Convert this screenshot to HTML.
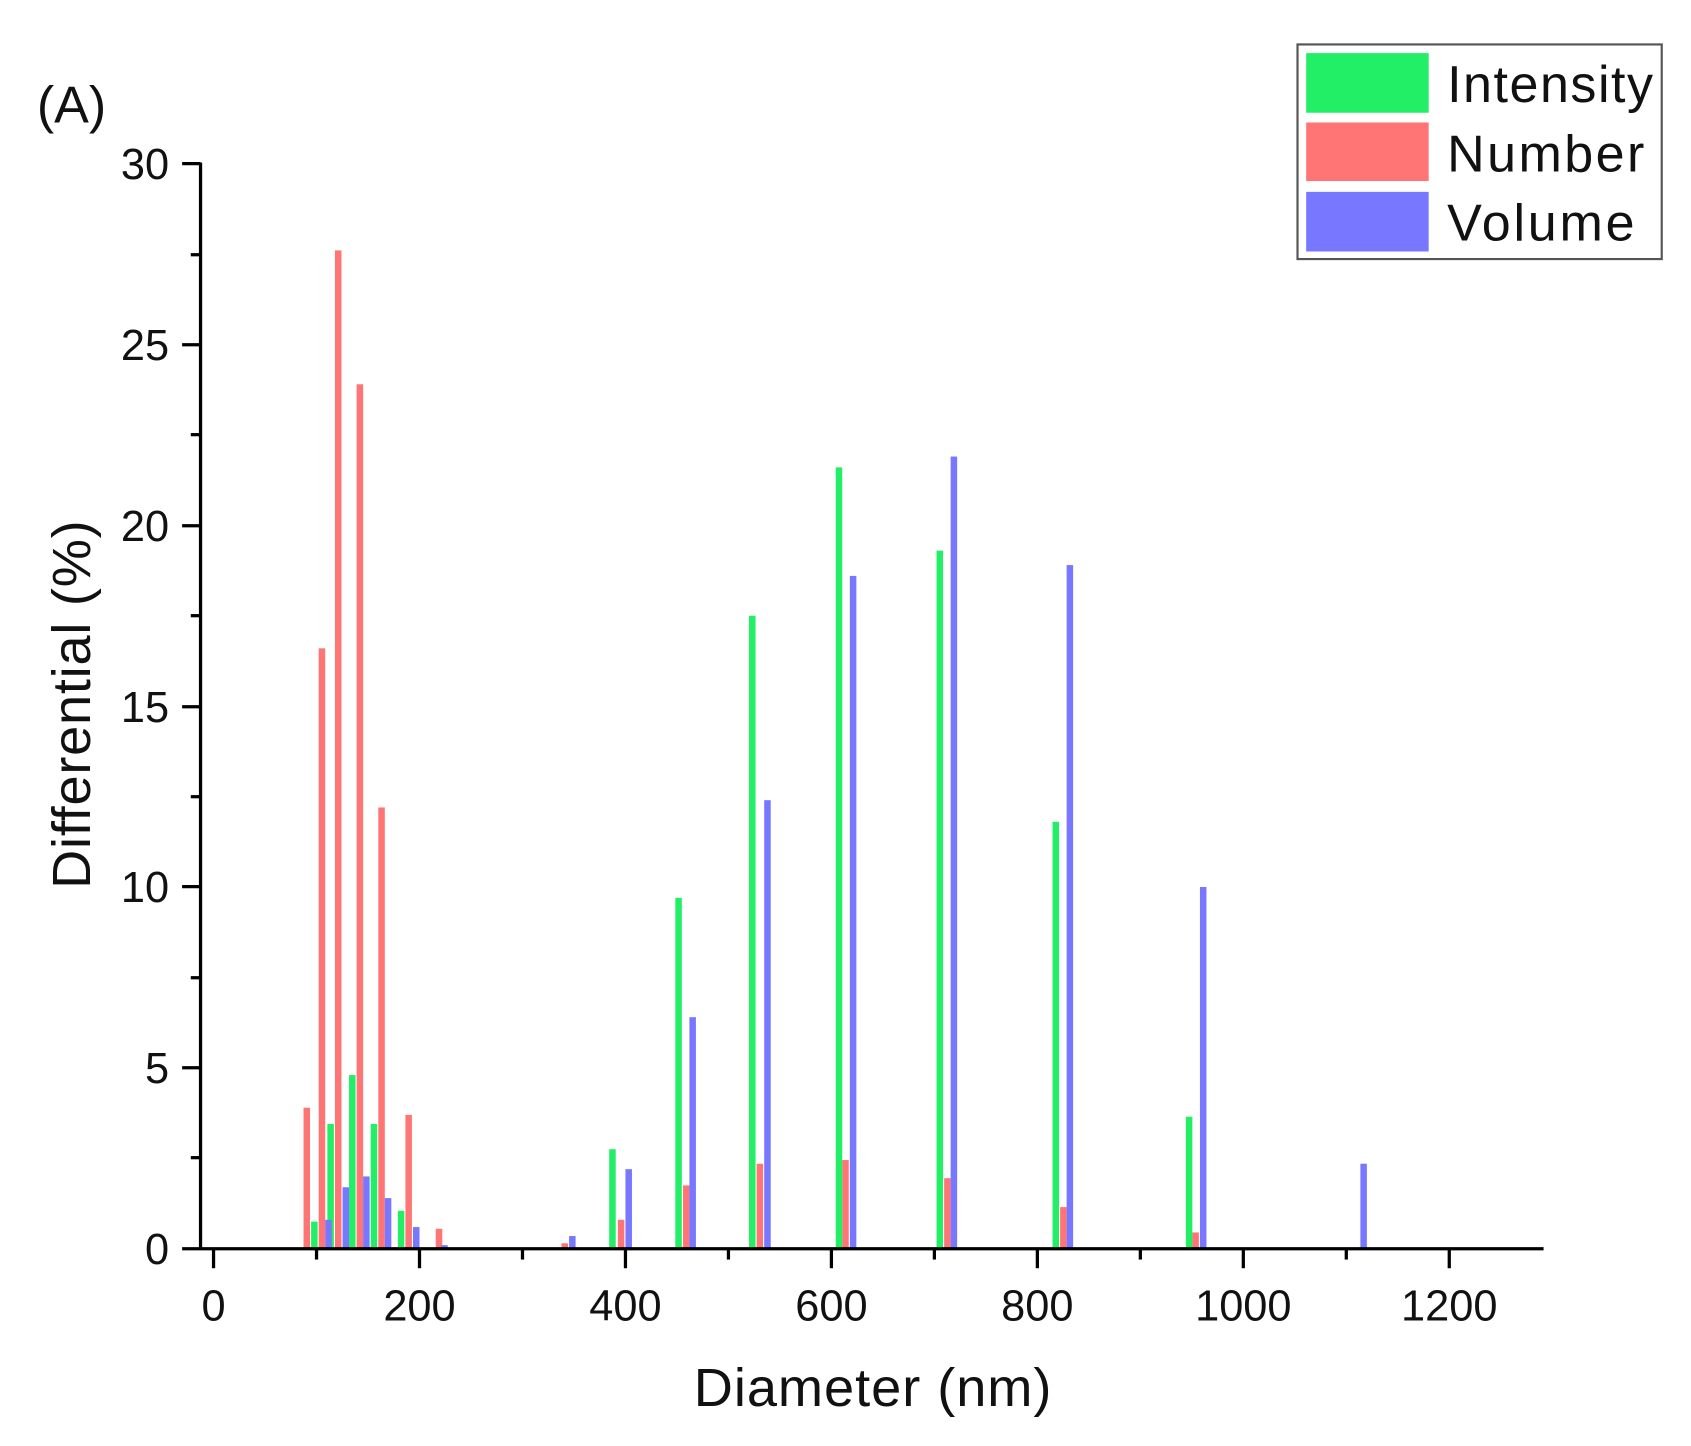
<!DOCTYPE html>
<html><head><meta charset="utf-8"><style>html,body{margin:0;padding:0;background:#fff;}svg{display:block;}</style></head>
<body>
<svg width="1691" height="1446" viewBox="0 0 1560 1334" xmlns="http://www.w3.org/2000/svg" font-family="Liberation Sans, Arial, sans-serif">
<rect width="1560" height="1334" fill="#fff"/>
<g fill="#ff7575">
<rect x="280" y="1021.9" width="6" height="130.1"/>
<rect x="294" y="598.1" width="6" height="553.9"/>
<rect x="309" y="231" width="6" height="921"/>
<rect x="329" y="354.5" width="6" height="797.5"/>
<rect x="349" y="744.9" width="6" height="407.1"/>
<rect x="374" y="1028.5" width="6" height="123.5"/>
<rect x="402" y="1133.6" width="6" height="18.4"/>
<rect x="518" y="1147" width="6" height="5"/>
<rect x="570" y="1125.3" width="6" height="26.7"/>
<rect x="630" y="1093.6" width="6" height="58.4"/>
<rect x="698" y="1073.6" width="6" height="78.4"/>
<rect x="777" y="1070.2" width="6" height="81.8"/>
<rect x="871" y="1086.9" width="6" height="65.1"/>
<rect x="978" y="1113.6" width="6" height="38.4"/>
<rect x="1100" y="1137" width="6" height="15"/>
</g>
<g fill="#22ee66">
<rect x="287" y="1127" width="6" height="25"/>
<rect x="302" y="1036.9" width="6" height="115.1"/>
<rect x="322" y="991.8" width="6" height="160.2"/>
<rect x="342" y="1036.9" width="6" height="115.1"/>
<rect x="367" y="1117" width="6" height="35"/>
<rect x="562" y="1060.2" width="6" height="91.8"/>
<rect x="623" y="828.3" width="6" height="323.7"/>
<rect x="691" y="568" width="6" height="584"/>
<rect x="771" y="431.2" width="6" height="720.8"/>
<rect x="864" y="508" width="6" height="644"/>
<rect x="971" y="758.2" width="6" height="393.8"/>
<rect x="1094" y="1030.2" width="6" height="121.8"/>
</g>
<g fill="#7777ff">
<rect x="300" y="1125.3" width="6" height="26.7"/>
<rect x="316" y="1095.3" width="6" height="56.7"/>
<rect x="335" y="1085.3" width="6" height="66.7"/>
<rect x="355" y="1105.3" width="6" height="46.7"/>
<rect x="381" y="1132" width="6" height="20"/>
<rect x="407" y="1148.7" width="6" height="3.3"/>
<rect x="525" y="1140.3" width="6" height="11.7"/>
<rect x="577" y="1078.6" width="6" height="73.4"/>
<rect x="636" y="938.4" width="6" height="213.6"/>
<rect x="705" y="738.2" width="6" height="413.8"/>
<rect x="784" y="531.3" width="6" height="620.7"/>
<rect x="877" y="421.2" width="6" height="730.8"/>
<rect x="984" y="521.3" width="6" height="630.7"/>
<rect x="1107" y="818.3" width="6" height="333.7"/>
<rect x="1255" y="1073.6" width="6" height="78.4"/>
</g>
<g stroke="#000" stroke-width="3" fill="none">
<line x1="185" y1="150" x2="185" y2="1153"/>
<line x1="168" y1="1152" x2="1424" y2="1152"/>
<line x1="168" y1="151" x2="185" y2="151"/>
<line x1="168" y1="318" x2="185" y2="318"/>
<line x1="168" y1="485" x2="185" y2="485"/>
<line x1="168" y1="652" x2="185" y2="652"/>
<line x1="168" y1="818" x2="185" y2="818"/>
<line x1="168" y1="985" x2="185" y2="985"/>
<line x1="176" y1="235" x2="185" y2="235"/>
<line x1="176" y1="401" x2="185" y2="401"/>
<line x1="176" y1="568" x2="185" y2="568"/>
<line x1="176" y1="735" x2="185" y2="735"/>
<line x1="176" y1="902" x2="185" y2="902"/>
<line x1="176" y1="1068" x2="185" y2="1068"/>
<line x1="197" y1="1152" x2="197" y2="1170"/>
<line x1="387" y1="1152" x2="387" y2="1170"/>
<line x1="577" y1="1152" x2="577" y2="1170"/>
<line x1="767" y1="1152" x2="767" y2="1170"/>
<line x1="957" y1="1152" x2="957" y2="1170"/>
<line x1="1147" y1="1152" x2="1147" y2="1170"/>
<line x1="1337" y1="1152" x2="1337" y2="1170"/>
<line x1="292" y1="1152" x2="292" y2="1162"/>
<line x1="482" y1="1152" x2="482" y2="1162"/>
<line x1="672" y1="1152" x2="672" y2="1162"/>
<line x1="862" y1="1152" x2="862" y2="1162"/>
<line x1="1052" y1="1152" x2="1052" y2="1162"/>
<line x1="1242" y1="1152" x2="1242" y2="1162"/>
</g>
<g font-size="40" fill="#111" text-anchor="end">
<text x="156" y="165">30</text><text x="156" y="332">25</text><text x="156" y="499">20</text>
<text x="156" y="666">15</text><text x="156" y="832">10</text><text x="156" y="999">5</text><text x="156" y="1166">0</text>
</g>
<g font-size="40" fill="#111" text-anchor="middle">
<text x="197" y="1218">0</text><text x="387" y="1218">200</text><text x="577" y="1218">400</text>
<text x="767" y="1218">600</text><text x="957" y="1218">800</text><text x="1147" y="1218">1000</text><text x="1337" y="1218">1200</text>
</g>
<text x="805" y="1297" font-size="50" text-anchor="middle" fill="#111" textLength="330">Diameter (nm)</text>
<text transform="translate(83,650) rotate(-90)" font-size="50" text-anchor="middle" fill="#111" textLength="340">Differential (%)</text>
<text x="34" y="113" font-size="48" fill="#111">(A)</text>
<rect x="1197" y="41" width="336" height="198" fill="#fff" stroke="#555" stroke-width="2"/>
<rect x="1205" y="49" width="113" height="55" fill="#22ee66"/>
<rect x="1205" y="113" width="113" height="54" fill="#ff7575"/>
<rect x="1205" y="177" width="113" height="55" fill="#7777ff"/>
<g font-size="48" fill="#111">
<text x="1335" y="94" textLength="190">Intensity</text><text x="1335" y="158" textLength="182">Number</text><text x="1335" y="222" textLength="173">Volume</text>
</g>
</svg>
</body></html>
